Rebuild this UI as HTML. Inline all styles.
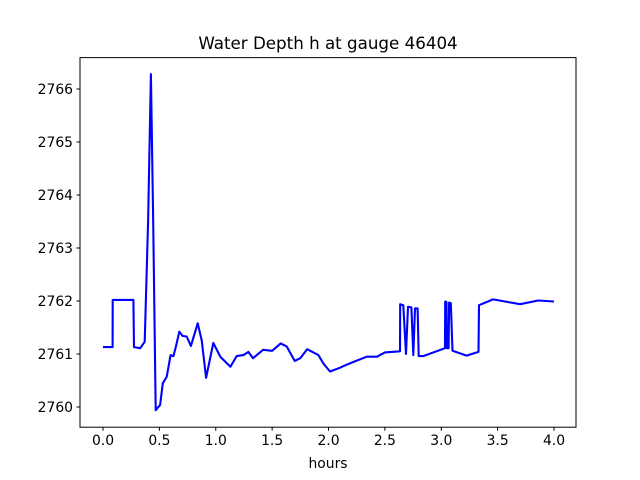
<!DOCTYPE html>
<html><head><meta charset="utf-8"><style>
body{margin:0;background:#fff}
svg{display:block;font-family:"DejaVu Sans","Liberation Sans",sans-serif}
</style></head><body>
<svg id="chart" width="640" height="480">
<rect width="640" height="480" fill="#fff"/>
<text x="328" y="49" text-anchor="middle" font-size="16.7">Water Depth h at gauge 46404</text>
<g id="ticks"></g>
<path id="line" fill="none" stroke="#0000ff" stroke-width="2.1" stroke-linejoin="round"/>
<rect x="80" y="57.6" width="496" height="369.6" fill="none" stroke="#000" stroke-width="1"/>
<text x="328" y="468" text-anchor="middle" font-size="13.9">hours</text>
</svg>
<script>
const hours=[0,0.085,0.086,0.27,0.275,0.33,0.37,0.40,0.425,0.445,0.467,0.506,0.53,0.565,0.60,0.624,0.647,0.677,0.707,0.742,0.78,0.84,0.875,0.914,0.978,1.04,1.13,1.186,1.245,1.29,1.33,1.42,1.50,1.576,1.63,1.70,1.75,1.81,1.91,1.955,2.013,2.10,2.13,2.22,2.34,2.43,2.50,2.634,2.636,2.663,2.687,2.705,2.735,2.752,2.767,2.79,2.80,2.84,3.033,3.035,3.047,3.05,3.065,3.07,3.085,3.10,3.225,3.33,3.335,3.46,3.70,3.86,4.0];
const depth=[2761.13,2761.13,2762.02,2762.02,2761.13,2761.11,2761.23,2763.5,2766.28,2763.5,2759.94,2760.04,2760.45,2760.57,2760.98,2760.96,2761.14,2761.42,2761.34,2761.33,2761.15,2761.58,2761.26,2760.55,2761.21,2760.95,2760.76,2760.96,2760.98,2761.04,2760.92,2761.08,2761.06,2761.20,2761.14,2760.87,2760.92,2761.09,2760.98,2760.82,2760.67,2760.74,2760.77,2760.85,2760.95,2760.95,2761.03,2761.05,2761.94,2761.92,2761.0,2761.89,2761.88,2760.98,2761.86,2761.86,2760.96,2760.96,2761.11,2761.99,2761.98,2761.11,2761.11,2761.97,2761.96,2761.06,2760.97,2761.04,2761.92,2762.03,2761.94,2762.01,2761.99];
const xTicks=[0,0.5,1,1.5,2,2.5,3,3.5,4];
const yTicks=[2760,2761,2762,2763,2764,2765,2766];
const X=h=>103+h*112.75;
const Y=v=>407-(v-2760)*53;
const ns="http://www.w3.org/2000/svg";
const g=document.getElementById('ticks');
function mk(t,a){const e=document.createElementNS(ns,t);for(const k in a)e.setAttribute(k,a[k]);return e;}
xTicks.forEach(t=>{
 const l=mk('line',{x1:X(t),x2:X(t),y1:427.2,y2:430.7,stroke:'#000'});
 
 
 g.appendChild(l);
 const s=mk('text',{x:X(t),y:445,'text-anchor':'middle','font-size':'13.9'});
 s.textContent=t.toFixed(1);
 
 
 g.appendChild(s);
});
yTicks.forEach(t=>{
 const l=mk('line',{x1:76.5,x2:80,y1:Y(t),y2:Y(t),stroke:'#000'});
 
 
 g.appendChild(l);
 const s=mk('text',{x:73,y:Y(t)+5,'text-anchor':'end','font-size':'13.9'});
 s.textContent=t;
 
 
 g.appendChild(s);
});
document.getElementById('line').setAttribute('d',hours.map((h,i)=>(i?'L':'M')+X(h).toFixed(1)+','+Y(depth[i]).toFixed(1)).join(''));
</script>
</body></html>
